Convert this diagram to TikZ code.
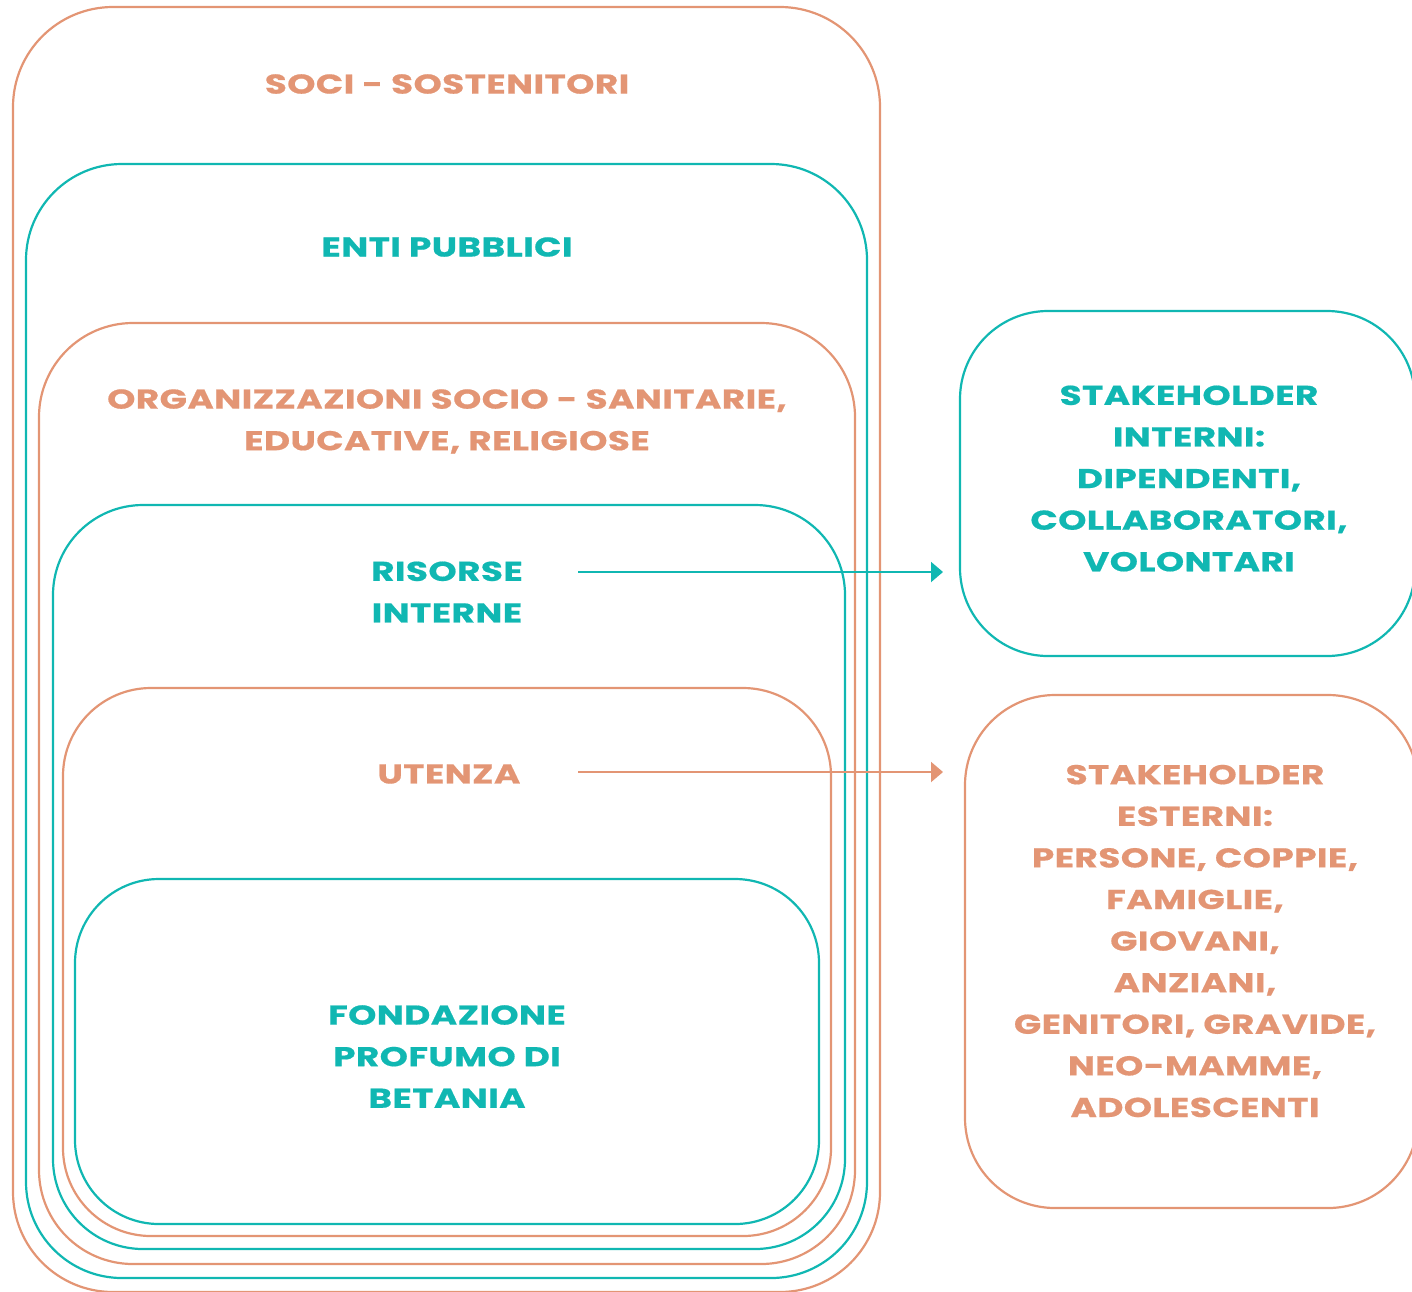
\documentclass[tikz,border=0pt]{standalone}
\usepackage{fontspec}
\setmainfont{Poppins}[FakeStretch=1.32,LetterSpace=1.5,BoldFeatures={FakeBold=0.6}]
\usetikzlibrary{arrows.meta}
\definecolor{corange}{HTML}{E39574}
\definecolor{cteal}{HTML}{10B7B2}
\begin{document}
\begin{tikzpicture}[x=0.5pt,y=-0.5pt,
  frame/.style={line width=1.1pt,rounded corners=#1},
  lbl/.style={font=\bfseries\fontsize{13.6}{20.8}\selectfont,align=center,inner sep=0pt},
  conn/.style={line width=1pt,-{Triangle[length=6pt,width=10pt]}}]
\useasboundingbox (0,0) rectangle (1412,1291);
\clip (0,0) rectangle (1412,1291);
% nested frames
\draw[frame=50pt,corange] (13,7) rectangle (880,1292);
\draw[frame=48pt,cteal] (26,164) rectangle (867,1278);
\draw[frame=47pt,corange] (39,323) rectangle (855,1264);
\draw[frame=45pt,cteal] (53,505) rectangle (845,1249);
\draw[frame=44pt,corange] (63,688) rectangle (831,1236);
\draw[frame=42pt,cteal] (75,879) rectangle (819,1224);
% right frames
\draw[frame=44pt,cteal] (960,311) rectangle (1415,656);
\draw[frame=45pt,corange] (965,695) rectangle (1418,1208);
% labels
\node[lbl,corange] (soci) at (447,84) {SOCI - SOSTENITORI};
\node[lbl,cteal] (enti) at (447,247) {ENTI PUBBLICI};
\node[lbl,corange] (org) at (447,421.5) {ORGANIZZAZIONI SOCIO - SANITARIE,\\EDUCATIVE, RELIGIOSE};
\node[lbl,cteal] (ris) at (447,592) {RISORSE\\INTERNE};
\node[lbl,corange] (ute) at (449,774) {UTENZA};
\node[lbl,cteal] (fond) at (447,1056.5) {FONDAZIONE\\PROFUMO DI\\BETANIA};
\node[lbl,cteal] (sint) at (1189,478.5) {STAKEHOLDER\\INTERNI:\\DIPENDENTI,\\COLLABORATORI,\\VOLONTARI};
\node[lbl,corange] (sest) at (1195,941) {STAKEHOLDER\\ESTERNI:\\PERSONE, COPPIE,\\FAMIGLIE,\\GIOVANI,\\ANZIANI,\\GENITORI, GRAVIDE,\\NEO-MAMME,\\ADOLESCENTI};
% arrows
\coordinate (a1s) at (578,572);
\coordinate (a1e) at (943,572);
\coordinate (a2s) at (578,772);
\coordinate (a2e) at (943,772);
\draw[conn,cteal] (a1s) -- (a1e);
\draw[conn,corange] (a2s) -- (a2e);
\end{tikzpicture}
\end{document}
